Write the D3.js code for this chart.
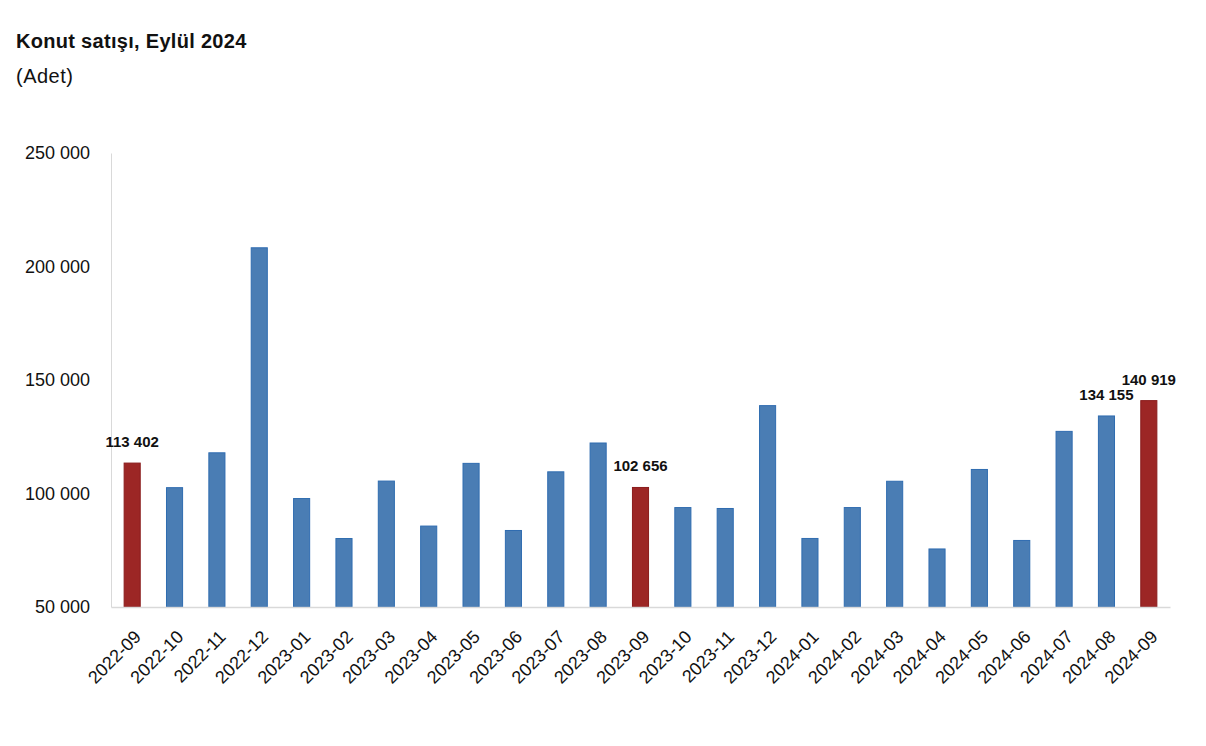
<!DOCTYPE html>
<html><head><meta charset="utf-8">
<script src="https://cdn.jsdelivr.net/npm/d3@7"></script>
<style>body{margin:0;background:#fff;font-family:"Liberation Sans",Arial,Helvetica,sans-serif;}</style>
</head><body>
<svg id="c" width="1206" height="746"></svg>
<script>
const categories = ["2022-09","2022-10","2022-11","2022-12","2023-01","2023-02","2023-03","2023-04","2023-05","2023-06","2023-07","2023-08","2023-09","2023-10","2023-11","2023-12","2024-01","2024-02","2024-03","2024-04","2024-05","2024-06","2024-07","2024-08","2024-09"];
const values = [113402,102574,117927,208245,97782,80164,105476,85652,113276,83707,109548,122245,102656,93804,93398,138710,80193,93801,105394,75569,110588,79313,127367,134155,140919];
const highlighted = ["2022-09","2023-09","2024-09"];
const labelled = ["2022-09","2023-09","2024-08","2024-09"];
const yTicks = [50000,100000,150000,200000,250000];
const title = "Konut satışı, Eylül 2024";
const subtitle = "(Adet)";

const svg = d3.select("#c");
const L = 111, R = 1170, T = 153, B = 607;
const x = d3.scaleBand().domain(categories).range([L, R]).paddingInner(0.62).paddingOuter(0.31);
const y = d3.scaleLinear().domain([50000, 250000]).range([B, T]);
const fmt = v => d3.format(",")(v).replace(/,/g, " ");

svg.append("text").attr("x", 16).attr("y", 48).attr("font-size", 20).attr("font-weight", "bold").attr("letter-spacing", 0.3).attr("fill", "#111").text(title);
svg.append("text").attr("x", 16).attr("y", 83).attr("font-size", 20).attr("letter-spacing", 0.5).attr("fill", "#111").text(subtitle);

// y axis
const ya = svg.append("g").attr("transform", `translate(${L},0)`)
  .call(d3.axisLeft(y).tickValues(yTicks).tickFormat(fmt).tickSize(0).tickPadding(21));
ya.select(".domain").attr("stroke", "#d9d9d9");
ya.selectAll("text").attr("font-size", 18).attr("fill", "#111").attr("font-family", "Liberation Sans, Arial, sans-serif");

// bars
svg.append("g").selectAll("rect").data(categories).join("rect")
  .attr("x", d => x(d)).attr("width", x.bandwidth())
  .attr("y", (d, i) => y(values[i])).attr("height", (d, i) => B - y(values[i]))
  .attr("fill", d => highlighted.includes(d) ? "#9c2625" : "#4a7db4")
  .attr("stroke", d => highlighted.includes(d) ? "#8a1c1c" : "#2f6cb0").attr("stroke-width", 1);

// x axis
const xa = svg.append("g").attr("transform", `translate(0,${B})`)
  .call(d3.axisBottom(x).tickSize(0).tickSizeOuter(0).tickPadding(0));
xa.select(".domain").attr("stroke", "#d9d9d9").attr("stroke-width", 1.5);
xa.selectAll("text").attr("font-size", 18).attr("fill", "#111").attr("font-family", "Liberation Sans, Arial, sans-serif")
  .attr("text-anchor", "end").attr("dy", 0)
  .attr("transform", "translate(10,31) rotate(-45)");

// labels
svg.append("g").selectAll("text").data(categories.filter(c => labelled.includes(c))).join("text")
  .attr("x", d => x(d) + x.bandwidth() / 2)
  .attr("y", d => y(values[categories.indexOf(d)]) - 16)
  .attr("text-anchor", "middle").attr("font-size", 15).attr("font-weight", "bold").attr("fill", "#111")
  .text(d => fmt(values[categories.indexOf(d)]));
</script>
</body></html>
